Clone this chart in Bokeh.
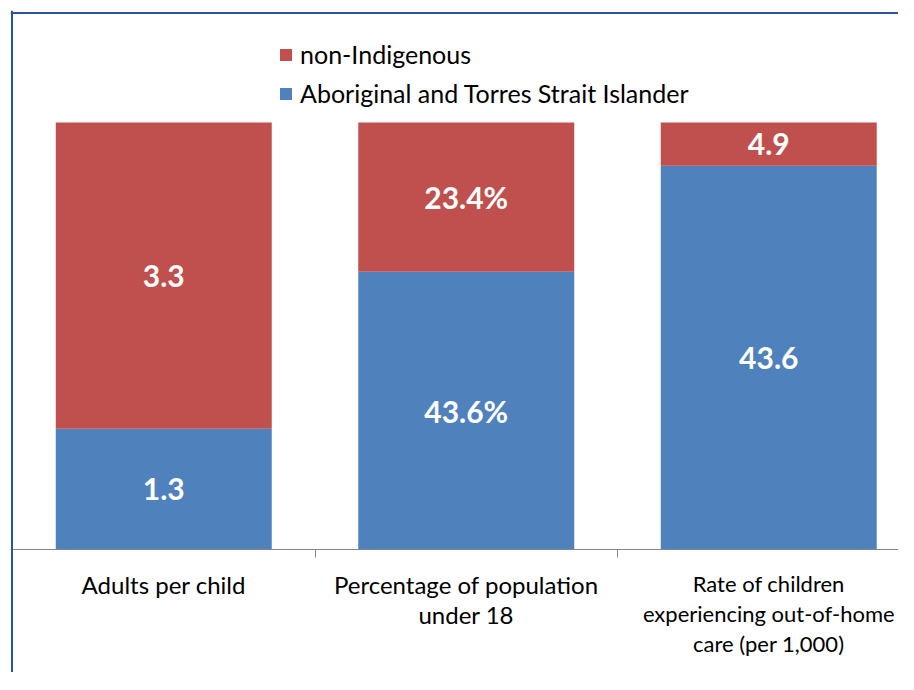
from bokeh.plotting import figure
from bokeh.models import (ColumnDataSource, Legend, LegendItem, FixedTicker,
                          LinearAxis, Range1d, Span)
from bokeh.embed import file_html
from bokeh.resources import INLINE
from bokeh.core.properties import value

# ---- data ----
categories = ["Adults per child",
              "Percentage of population\nunder 18",
              "Rate of children\nexperiencing out-of-home\ncare (per 1,000)"]
aboriginal = [1.3, 43.6, 43.6]
non_indigenous = [3.3, 23.4, 4.9]
suffix = ["", "%", ""]
series_names = ["Aboriginal and Torres Strait Islander", "non-Indigenous"]
blue = "#4F81BD"
red = "#C0504D"

xs = [i + 0.5 for i in range(len(categories))]
totals = [a + b for a, b in zip(aboriginal, non_indigenous)]
ab_share = [100 * a / t for a, t in zip(aboriginal, totals)]
non_top = [100.0 for _ in totals]

src = ColumnDataSource(dict(
    x=xs, ab=ab_share, top=non_top,
    ab_mid=[v / 2 for v in ab_share],
    non_mid=[(v + 100) / 2 for v in ab_share],
    ab_lbl=[f"{v}{s}" for v, s in zip(aboriginal, suffix)],
    non_lbl=[f"{v}{s}" for v, s in zip(non_indigenous, suffix)],
))

FONT = "Lato"
W, H = 898, 672
PX_X = 302.5          # pixels per category
PX_Y = 4.27           # pixels per percent
FL, FT = 10, 10       # frame left / top offset in px
X0 = (12 - FL) / PX_X
p = figure(width=W, height=H, output_backend="svg", toolbar_location=None,
           x_range=Range1d(-X0, (W - 12) / PX_X),
           y_range=Range1d(-(H - 549) / PX_Y, (549 - FT) / PX_Y),
           min_border_left=FL, min_border_top=FT, min_border_right=0, min_border_bottom=0,
           x_axis_location=None, y_axis_location=None)
p.grid.visible = False
p.outline_line_color = None
p.background_fill_color = "white"
p.border_fill_color = "white"

r_ab = p.vbar(x="x", bottom=0, top="ab", width=0.714, source=src,
              fill_color=blue, line_color=None)
r_non = p.vbar(x="x", bottom="ab", top="top", width=0.714, source=src,
               fill_color=red, line_color=None)

p.text(x="x", y="ab_mid", text="ab_lbl", source=src, text_color="white",
       text_font=value(FONT), text_font_style="bold", text_font_size="30px",
       text_align="center", text_baseline="middle")
p.text(x="x", y="non_mid", text="non_lbl", source=src, text_color="white",
       text_font=value(FONT), text_font_style="bold", text_font_size="30px",
       text_align="center", text_baseline="middle")


def cat_axis(ticks, minor, size, standoff, line_height, show_line):
    ax = LinearAxis(fixed_location=0)
    ax.ticker = FixedTicker(ticks=ticks, minor_ticks=minor)
    ax.major_label_overrides = {x: categories[xs.index(x)] for x in ticks}
    ax.axis_line_color = "#868686" if show_line else None
    ax.axis_line_width = 1
    ax.major_tick_out = 0
    ax.major_tick_in = 0
    ax.minor_tick_out = 8
    ax.minor_tick_in = 0
    ax.minor_tick_line_color = "#868686"
    ax.major_label_standoff = standoff
    ax.major_label_text_font = FONT
    ax.major_label_text_font_size = size
    ax.major_label_text_color = "black"
    ax.major_label_text_line_height = line_height
    return ax


# x axis at y=0 (the three-line label is set slightly smaller so it fits)
p.add_layout(cat_axis(xs[:2], [1, 2, 3], "24px", 12, 1.06, True), "below")
p.add_layout(cat_axis(xs[2:], [], "22px", 20, 1.12, False), "below")

# chart border (left and top)
border = "#2A5599"
p.add_layout(Span(location=-(12 - 11.5) / PX_X, dimension="height",
                  line_color=border, line_width=2))
p.add_layout(Span(location=(549 - 12.5) / PX_Y, dimension="width",
                  line_color=border, line_width=2))

legend = Legend(items=[LegendItem(label=series_names[1], renderers=[r_non]),
                       LegendItem(label=series_names[0], renderers=[r_ab])],
                location=(268, 564), orientation="vertical")
legend.padding = 0
legend.margin = 0
legend.spacing = 9
legend.glyph_width = 15
legend.glyph_height = 15
legend.label_height = 30
legend.label_standoff = 7
legend.label_text_font = FONT
legend.label_text_font_size = "25px"
legend.label_text_color = "black"
legend.border_line_color = None
legend.background_fill_alpha = 0
p.add_layout(legend, "center")

open("out.html", "w").write(file_html(p, INLINE))
